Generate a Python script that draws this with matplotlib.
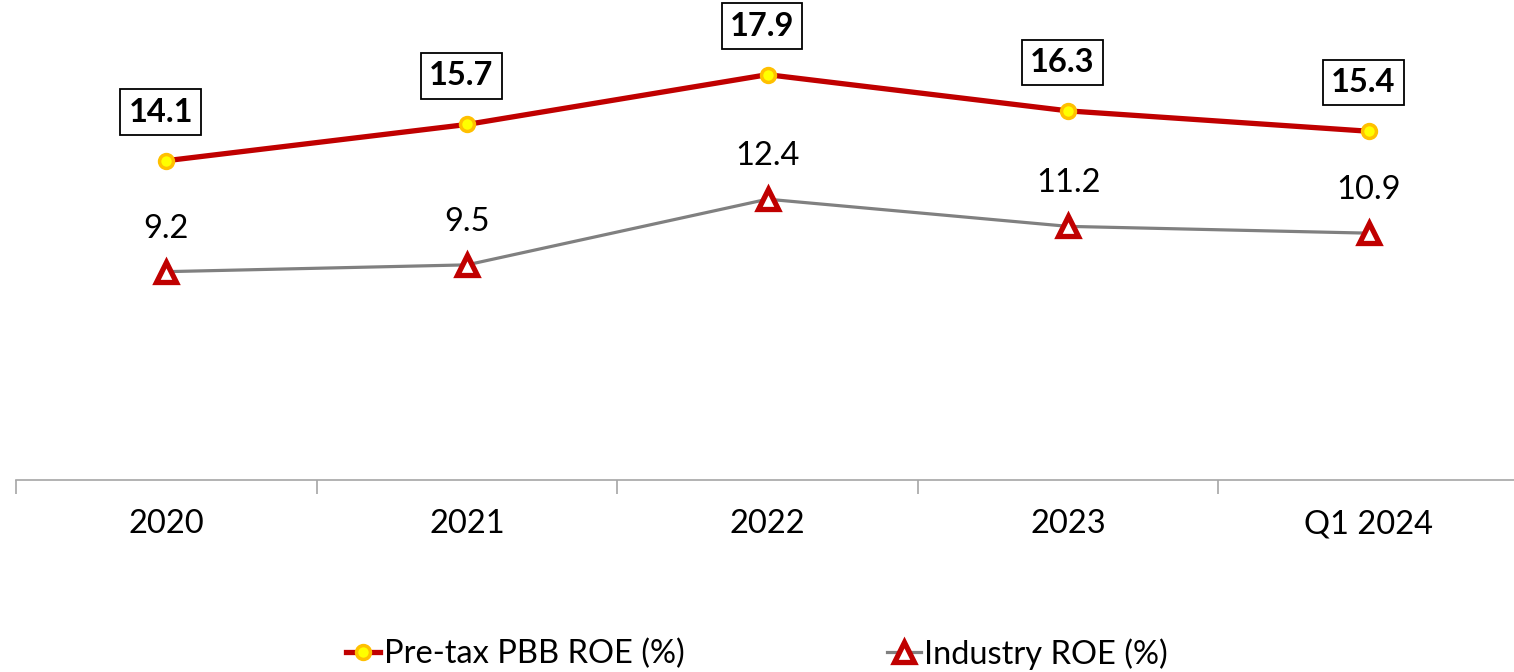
import numpy as np
import matplotlib.pyplot as plt

# data
categories = ['2020', '2021', '2022', '2023', 'Q1 2024']
pbb_roe = [14.1, 15.7, 17.9, 16.3, 15.4]
industry_roe = [9.2, 9.5, 12.4, 11.2, 10.9]

plt.rcParams['font.family'] = ['Lato', 'DejaVu Sans']

fig = plt.figure(figsize=(15.14, 6.72), dpi=100)
ax = fig.add_axes([0.0106, 0.2857, 0.9927, 0.674])

x = np.arange(len(categories))

ax.plot(x, industry_roe, color='#808080', lw=2.3, marker='^', ms=15,
        mfc='white', mec='#C00000', mew=3.8, label='Industry ROE (%)', zorder=3)
ax.plot(x, pbb_roe, color='#C00000', lw=3.8, marker='o', ms=10,
        mfc='#FFFF00', mec='#FFC000', mew=2.5, label='Pre-tax PBB ROE (%)', zorder=4)

for xi, v in zip(x, pbb_roe):
    ax.annotate(f'{v:.1f}', (xi, v), xytext=(-4, 35), textcoords='offset points',
                ha='center', va='center', fontsize=23.5, fontweight='bold',
                bbox=dict(boxstyle='square,pad=0.25', fc='white', ec='black', lw=1.3))
for xi, v in zip(x, industry_roe):
    ax.annotate(f'{v:.1f}', (xi, v), xytext=(0, 31), textcoords='offset points',
                ha='center', va='center', fontsize=23.5)

ax.set_xlim(-0.5, len(categories) - 0.5)
ax.set_ylim(0, 20)
ax.set_yticks([])
ax.set_xticks(x)
ax.set_xticklabels(categories, fontsize=23.5)
ax.set_xticks(np.arange(len(categories) + 1) - 0.5, minor=True)
ax.tick_params(axis='x', which='major', length=0, pad=21)
ax.tick_params(axis='x', which='minor', length=10, color='#A6A6A6', width=1.2)
for s in ['top', 'right', 'left']:
    ax.spines[s].set_visible(False)
ax.spines['bottom'].set_color('#A6A6A6')
ax.spines['bottom'].set_linewidth(1.2)

h, l = ax.get_legend_handles_labels()
fig.legend(h[::-1], l[::-1], loc='lower center', bbox_to_anchor=(0.5, -0.04), ncol=2,
           frameon=False, fontsize=23.5, handlelength=1.05, handletextpad=0.1,
           columnspacing=6.2)

fig.savefig('out.png', dpi=100)
